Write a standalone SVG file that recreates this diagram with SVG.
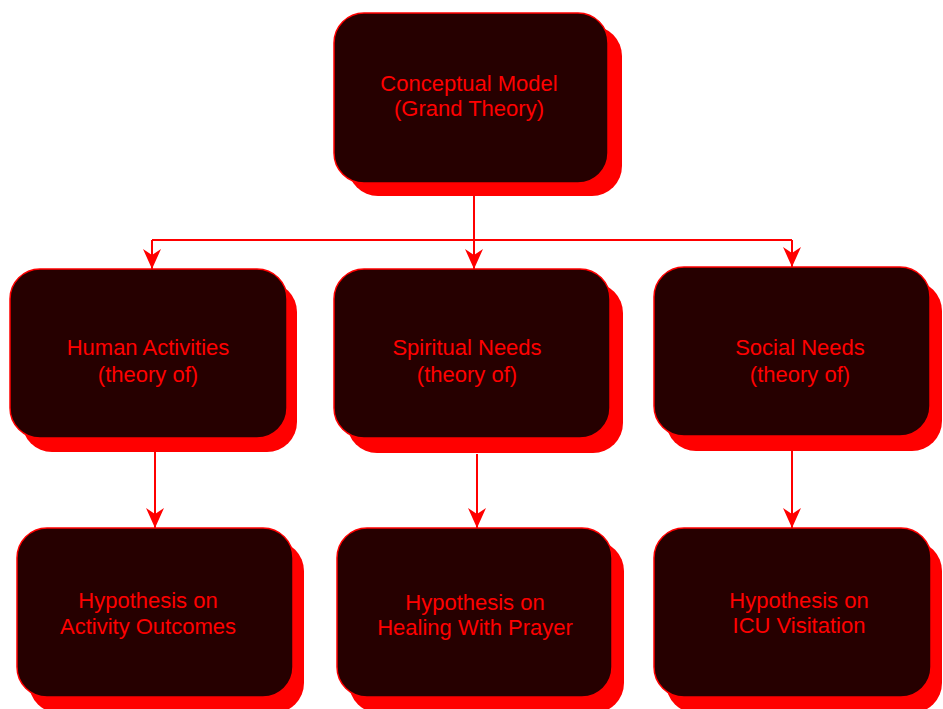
<svg xmlns="http://www.w3.org/2000/svg" width="943" height="709" viewBox="0 0 943 709">
<defs>
<style>
.sh{fill:#ff0000;}
.bx{fill:#260000;stroke:#ff0000;stroke-width:1.5;}
.t{font-family:"Liberation Sans",Arial,sans-serif;font-size:22px;fill:#ff0000;text-anchor:middle;}
.c{fill:none;stroke:#ff0000;stroke-width:2;}
</style>
<marker id="ar" viewBox="0 0 20 18" markerWidth="20" markerHeight="18" refX="20" refY="9" orient="auto" markerUnits="userSpaceOnUse">
<path d="M0,0 L20,9 L0,18 L6,9 Z" fill="#ff0000"/>
</marker>
</defs>
<rect width="943" height="709" fill="#ffffff"/>
<g id="connectors">
<path class="c" d="M474,196 V240 M152,240 H792" />
<path class="c" d="M152,240 V269" marker-end="url(#ar)"/>
<path class="c" d="M474,240 V269" marker-end="url(#ar)"/>
<path class="c" d="M792,240 V267" marker-end="url(#ar)"/>
<path class="c" d="M155,452 V528" marker-end="url(#ar)"/>
<path class="c" d="M477,454 V528" marker-end="url(#ar)"/>
<path class="c" d="M792,450 V528" marker-end="url(#ar)"/>
</g>
<g id="n1">
<rect class="sh" x="348" y="26" width="274" height="170" rx="30"/>
<rect class="bx" x="334" y="13" width="274" height="170" rx="30"/>
<text class="t" x="469" y="91">Conceptual Model</text>
<text class="t" x="469" y="116">(Grand Theory)</text>
</g>
<g id="n2">
<rect class="sh" x="22" y="282" width="275" height="170" rx="30"/>
<rect class="bx" x="10" y="269" width="277" height="169" rx="30"/>
<text class="t" x="148" y="355">Human Activities</text>
<text class="t" x="148" y="382">(theory of)</text>
</g>
<g id="n3">
<rect class="sh" x="347" y="283" width="276" height="170" rx="30"/>
<rect class="bx" x="334" y="269" width="276" height="169" rx="30"/>
<text class="t" x="467" y="355">Spiritual Needs</text>
<text class="t" x="467" y="382">(theory of)</text>
</g>
<g id="n4">
<rect class="sh" x="666" y="281" width="276" height="170" rx="30"/>
<rect class="bx" x="654" y="267" width="276" height="169" rx="30"/>
<text class="t" x="800" y="355">Social Needs</text>
<text class="t" x="800" y="382">(theory of)</text>
</g>
<g id="n5">
<rect class="sh" x="29" y="541" width="275" height="172" rx="30"/>
<rect class="bx" x="17" y="528" width="276" height="169" rx="30"/>
<text class="t" x="148" y="608">Hypothesis on</text>
<text class="t" x="148" y="634">Activity Outcomes</text>
</g>
<g id="n6">
<rect class="sh" x="349" y="541" width="275" height="172" rx="30"/>
<rect class="bx" x="337" y="528" width="275" height="169" rx="30"/>
<text class="t" x="475" y="610">Hypothesis on</text>
<text class="t" x="475" y="635">Healing With Prayer</text>
</g>
<g id="n7">
<rect class="sh" x="666" y="541" width="276" height="172" rx="30"/>
<rect class="bx" x="654" y="528" width="277" height="169" rx="30"/>
<text class="t" x="799" y="608">Hypothesis on</text>
<text class="t" x="799" y="633">ICU Visitation</text>
</g>
</svg>
